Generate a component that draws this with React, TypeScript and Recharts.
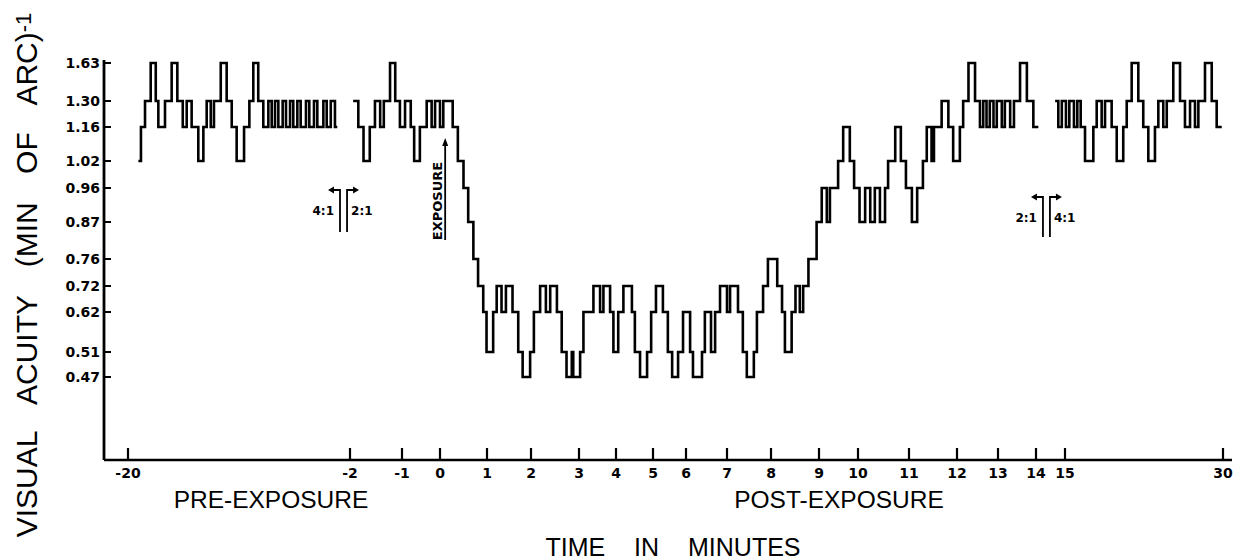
import { LineChart, Line, XAxis, YAxis, ReferenceLine } from "recharts";

type Step = [number, number]; // [minute, acuity]

const acuityLevels = [1.63, 1.3, 1.16, 1.02, 0.96, 0.87, 0.76, 0.72, 0.62, 0.51, 0.47];
// printed height of each acuity level above the time axis (the ordinate is not linear)
const levelRise = [397, 359, 333, 299, 272, 238, 201, 174, 148, 108, 83];

const timeTicks = [-20, -2, -1, 0, 1, 2, 3, 4, 5, 6, 7, 8, 9, 10, 11, 12, 13, 14, 15, 30];
// where each minute mark sits along the broken, hand-drawn time axis
const tickAlong = [24, 246, 298, 336, 383, 427, 475, 512, 549, 582, 623, 667, 715, 754, 805, 853, 894, 932, 961, 1119];

const preRun: Step[] = [
  [-19.16, 1.02], [-18.95, 1.16], [-18.62, 1.3], [-18.16, 1.63], [-17.75, 1.3], [-17.54, 1.16],
  [-17.0, 1.3], [-16.46, 1.63], [-16.0, 1.3], [-15.56, 1.16], [-15.24, 1.3], [-14.84, 1.16],
  [-14.3, 1.02], [-13.89, 1.16], [-13.62, 1.3], [-13.29, 1.16], [-13.03, 1.3], [-12.48, 1.63],
  [-12.0, 1.3], [-11.59, 1.16], [-11.19, 1.02], [-10.59, 1.16], [-10.16, 1.3], [-9.84, 1.63],
  [-9.44, 1.3], [-9.03, 1.16], [-8.62, 1.3], [-8.35, 1.16], [-8.08, 1.3], [-7.81, 1.16],
  [-7.46, 1.3], [-7.19, 1.16], [-6.86, 1.3], [-6.6, 1.16], [-6.27, 1.3], [-6.0, 1.16],
  [-5.57, 1.3], [-5.3, 1.16], [-4.92, 1.3], [-4.65, 1.16], [-4.16, 1.3], [-3.89, 1.16],
  [-3.56, 1.3], [-3.22, 1.16], [-3.03, 1.16],
];

const mainRun: Step[] = [
  [-1.94, 1.3], [-1.84, 1.16], [-1.74, 1.02], [-1.62, 1.16], [-1.52, 1.3], [-1.42, 1.16],
  [-1.35, 1.3], [-1.23, 1.63], [-1.13, 1.3], [-1.04, 1.16], [-0.92, 1.3], [-0.77, 1.16],
  [-0.68, 1.02], [-0.53, 1.16], [-0.35, 1.3], [-0.22, 1.16], [-0.13, 1.3], [0.0, 1.16],
  [0.07, 1.3], [0.27, 1.16], [0.38, 1.02], [0.5, 0.96], [0.6, 0.87], [0.71, 0.76],
  [0.81, 0.72], [0.92, 0.62], [0.99, 0.51], [1.14, 0.62], [1.22, 0.72], [1.33, 0.62],
  [1.43, 0.72], [1.58, 0.62], [1.71, 0.51], [1.81, 0.47], [1.98, 0.51], [2.06, 0.62],
  [2.19, 0.72], [2.31, 0.62], [2.4, 0.72], [2.54, 0.62], [2.64, 0.51], [2.74, 0.47],
  [2.85, 0.51], [2.88, 0.47], [3.03, 0.51], [3.12, 0.62], [3.39, 0.72], [3.57, 0.62],
  [3.66, 0.72], [3.84, 0.62], [3.93, 0.51], [4.06, 0.62], [4.2, 0.72], [4.43, 0.62],
  [4.51, 0.51], [4.65, 0.47], [4.84, 0.51], [4.95, 0.62], [5.09, 0.72], [5.3, 0.62],
  [5.45, 0.51], [5.58, 0.47], [5.76, 0.51], [5.91, 0.62], [6.1, 0.51], [6.17, 0.47],
  [6.39, 0.51], [6.46, 0.62], [6.61, 0.51], [6.71, 0.62], [6.83, 0.72], [7.0, 0.62],
  [7.07, 0.72], [7.25, 0.62], [7.36, 0.51], [7.45, 0.47], [7.61, 0.51], [7.68, 0.62],
  [7.82, 0.72], [7.93, 0.76], [8.13, 0.72], [8.23, 0.62], [8.29, 0.51], [8.43, 0.62],
  [8.51, 0.72], [8.6, 0.62], [8.67, 0.72], [8.78, 0.76], [8.95, 0.87], [9.07, 0.96],
  [9.2, 0.87], [9.28, 0.96], [9.49, 1.02], [9.62, 1.16], [9.79, 1.02], [9.9, 0.96],
  [10.03, 0.87], [10.14, 0.96], [10.24, 0.87], [10.33, 0.96], [10.43, 0.87], [10.53, 0.96],
  [10.59, 1.02], [10.73, 1.16], [10.84, 1.02], [10.94, 0.96], [11.06, 0.87], [11.17, 0.96],
  [11.29, 1.02], [11.37, 1.16], [11.47, 1.02], [11.52, 1.16], [11.68, 1.3], [11.82, 1.16],
  [11.92, 1.02], [12.07, 1.16], [12.15, 1.3], [12.28, 1.63], [12.44, 1.3], [12.56, 1.16],
  [12.64, 1.3], [12.72, 1.16], [12.8, 1.3], [12.89, 1.16], [12.97, 1.3], [13.1, 1.16],
  [13.18, 1.3], [13.32, 1.16], [13.42, 1.3], [13.58, 1.63], [13.76, 1.3], [13.93, 1.16],
  [14.08, 1.16],
];

const lateRun: Step[] = [
  [14.66, 1.3], [14.77, 1.16], [14.89, 1.3], [15.09, 1.16], [15.41, 1.3], [15.85, 1.16],
  [16.17, 1.3], [16.49, 1.16], [16.9, 1.02], [17.69, 1.16], [18.01, 1.3], [18.48, 1.16],
  [18.8, 1.3], [19.43, 1.16], [19.91, 1.02], [20.53, 1.16], [20.86, 1.3], [21.33, 1.63],
  [21.96, 1.3], [22.43, 1.16], [22.91, 1.02], [23.54, 1.16], [23.86, 1.3], [24.33, 1.16],
  [24.66, 1.3], [25.28, 1.63], [25.92, 1.3], [26.39, 1.16], [26.87, 1.3], [27.34, 1.16],
  [27.66, 1.3], [28.29, 1.63], [28.93, 1.3], [29.4, 1.16], [29.88, 1.16],
];

// ratio change markers (minute, vertical span on the ordinate, arrow side, text)
const ratioMarks = [
  { t: -2.81, from: 228, to: 270, dir: -1, text: "4:1" },
  { t: -2.24, from: 228, to: 270, dir: 1, text: "2:1" },
  { t: 14.24, from: 223, to: 263, dir: -1, text: "2:1" },
  { t: 14.48, from: 223, to: 263, dir: 1, text: "4:1" },
];
const exposureMark = { t: 0.11, from: 220, to: 322 };

const TICK_FONT = "'DejaVu Sans', sans-serif";
const TITLE_FONT = "'Liberation Sans', Arial, sans-serif";

const along = (t: number) => {
  for (let i = 0; i < timeTicks.length - 1; i++) {
    const a = timeTicks[i];
    const b = timeTicks[i + 1];
    if (t <= b || i === timeTicks.length - 2) {
      return tickAlong[i] + ((t - a) / (b - a)) * (tickAlong[i + 1] - tickAlong[i]);
    }
  }
  return 0;
};
const rise = (a: number) => levelRise[acuityLevels.indexOf(a)];
const toPoints = (run: Step[]) => run.map(([t, a]) => ({ x: along(t), y: rise(a) }));

function LevelTick({ x, y, payload }: any) {
  const i = levelRise.indexOf(payload.value);
  return (
    <g>
      <line x1={x} y1={y} x2={x + 7} y2={y} stroke="#000" strokeWidth={2} />
      <text x={x - 4} y={y} dy={5} textAnchor="end" fontFamily={TICK_FONT} fontWeight={700} fontSize={14} fill="#000">
        {acuityLevels[i].toFixed(2)}
      </text>
    </g>
  );
}

function TimeTick({ x, y, payload }: any) {
  const i = tickAlong.indexOf(payload.value);
  return (
    <g>
      <line x1={x} y1={y} x2={x} y2={y - 12} stroke="#000" strokeWidth={2.2} />
      <text x={x} y={y + 18} textAnchor="middle" fontFamily={TICK_FONT} fontWeight={700} fontSize={14} fill="#000">
        {timeTicks[i]}
      </text>
    </g>
  );
}

function RatioArrow({ x1, y1, y2, dir, text }: any) {
  const top = Math.min(y1, y2);
  const bottom = Math.max(y1, y2);
  const tip = x1 + dir * 12;
  return (
    <g>
      <path d={`M${x1},${bottom} V${top} H${tip - dir * 4}`} fill="none" stroke="#000" strokeWidth={1.8} />
      <path d={`M${tip},${top} L${tip - dir * 6},${top - 3.5} L${tip - dir * 6},${top + 3.5} Z`} fill="#000" />
      <text
        x={dir < 0 ? x1 - 6 : x1 + 4}
        y={top + 25}
        textAnchor={dir < 0 ? "end" : "start"}
        fontFamily={TICK_FONT}
        fontWeight={700}
        fontSize={12}
        fill="#000"
      >
        {text}
      </text>
    </g>
  );
}

function ExposureArrow({ x1, y1, y2 }: any) {
  const top = Math.min(y1, y2);
  const bottom = Math.max(y1, y2);
  return (
    <g>
      <line x1={x1} y1={bottom} x2={x1} y2={top + 5} stroke="#000" strokeWidth={1.8} />
      <path d={`M${x1},${top} L${x1 - 3},${top + 8} L${x1 + 3},${top + 8} Z`} fill="#000" />
      <text
        transform={`translate(${x1 - 3},${bottom - 39}) rotate(-90)`}
        textAnchor="middle"
        fontFamily={TICK_FONT}
        fontWeight={700}
        fontSize={13}
        fill="#000"
      >
        EXPOSURE
      </text>
    </g>
  );
}

export default function App() {
  const runs = [preRun, mainRun, lateRun];
  return (
    <div style={{ position: "relative", width: 1239, height: 560, background: "#fff" }}>
      <style>{"body{margin:0;background:#fff}"}</style>
      <LineChart width={1239} height={560} margin={{ top: 60, right: 7, bottom: 0, left: 0 }}>
        <XAxis
          type="number"
          dataKey="x"
          domain={[0, 1128]}
          allowDataOverflow
          ticks={tickAlong}
          interval={0}
          height={100}
          tickLine={false}
          tickSize={0}
          tickMargin={0}
          axisLine={{ stroke: "#000", strokeWidth: 2.5 }}
          tick={<TimeTick />}
        />
        <YAxis
          type="number"
          domain={[0, 400]}
          allowDataOverflow
          ticks={levelRise}
          interval={0}
          width={104}
          tickLine={false}
          tickSize={0}
          tickMargin={0}
          axisLine={{ stroke: "#000", strokeWidth: 2.8 }}
          tick={<LevelTick />}
        />
        {runs.map((run, i) => (
          <Line
            key={i}
            data={toPoints(run)}
            dataKey="y"
            type="stepAfter"
            stroke="#000"
            strokeWidth={2.6}
            dot={false}
            activeDot={false}
            isAnimationActive={false}
          />
        ))}
        {ratioMarks.map((m, i) => (
          <ReferenceLine
            key={`r${i}`}
            segment={[
              { x: along(m.t), y: m.from },
              { x: along(m.t), y: m.to },
            ]}
            ifOverflow="visible"
            shape={(p: any) => <RatioArrow {...p} dir={m.dir} text={m.text} />}
          />
        ))}
        <ReferenceLine
          segment={[
            { x: along(exposureMark.t), y: exposureMark.from },
            { x: along(exposureMark.t), y: exposureMark.to },
          ]}
          ifOverflow="visible"
          shape={(p: any) => <ExposureArrow {...p} />}
        />
      </LineChart>
      <svg width={1239} height={560} style={{ position: "absolute", left: 0, top: 0, pointerEvents: "none" }}>
        <text
          transform="translate(37,275) rotate(-90)"
          textAnchor="middle"
          fontFamily={TITLE_FONT}
          fontSize={30}
          wordSpacing={20}
          fill="#000"
        >
          VISUAL ACUITY (MIN OF ARC)
          <tspan fontSize={22} dy={-6}>-1</tspan>
        </text>
        <text x={271} y={508} textAnchor="middle" fontFamily={TITLE_FONT} fontSize={24.5} fill="#000">
          PRE-EXPOSURE
        </text>
        <text x={839} y={508} textAnchor="middle" fontFamily={TITLE_FONT} fontSize={24.5} fill="#000">
          POST-EXPOSURE
        </text>
        <text x={673} y={556} textAnchor="middle" fontFamily={TITLE_FONT} fontSize={25} wordSpacing={22} fill="#000">
          TIME IN MINUTES
        </text>
      </svg>
    </div>
  );
}
